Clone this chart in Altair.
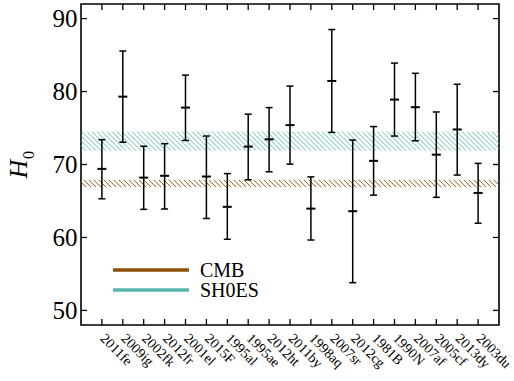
import altair as alt
import numpy as np
import pandas as pd

# ---- data ----
names = ["2011fe", "2009ig", "2002fk", "2012fr", "2001el", "2015F", "1995al",
         "1995ae", "2012ht", "2011by", "1998aq", "2007sr", "2012cg", "1981B",
         "1990N", "2007af", "2005cf", "2013dy", "2003du"]
h0 = [69.4, 79.3, 68.2, 68.45, 77.8, 68.35, 64.2, 72.45, 73.45, 75.4,
      63.95, 81.45, 63.6, 70.5, 78.9, 77.85, 71.35, 74.8, 66.1]
h0_lo = [65.3, 73.05, 63.85, 63.9, 73.3, 62.6, 59.75, 67.9, 69.0, 70.05,
         59.65, 74.4, 53.8, 65.8, 73.9, 73.25, 65.5, 68.55, 61.95]
h0_hi = [73.4, 85.55, 72.5, 72.85, 82.25, 73.9, 68.75, 76.9, 77.8, 80.75,
         68.3, 88.5, 73.35, 75.2, 83.9, 82.5, 77.2, 81.0, 70.15]

band_names = ["CMB", "SH0ES"]
band_center = [67.4, 73.2]
band_err = [0.5, 1.3]
band_colors = ["#8c510a", "#5ab4ac"]
hatch_colors = ["#9a5a14", "#62bbb2"]

y_ticks = [50, 60, 70, 80, 90]

# ---- layout ----
W, H = 418, 321
XDOM = [0, 20]
YDOM = [48, 92]
FONT = "'Liberation Serif', 'Times New Roman', serif"

pos = list(range(1, len(names) + 1))
df = pd.DataFrame({"pos": pos, "name": names, "h0": h0, "lo": h0_lo, "hi": h0_hi})

xs = alt.Scale(domain=XDOM, nice=False, zero=False)
ys = alt.Scale(domain=YDOM, nice=False, zero=False)

label_expr = "[" + ",".join("'%s'" % n for n in names) + "][datum.value - 1]"

x_axis = alt.Axis(values=pos, labelExpr=label_expr, labelAngle=45,
                  labelAlign="left", labelBaseline="middle",
                  labelPadding=11, labelFontSize=14, labelFont=FONT,
                  labelColor="#000", ticks=False, domain=False,
                  grid=False, title=None, labelOverlap=False)
y_axis = alt.Axis(values=y_ticks, labelFontSize=25, labelFont=FONT,
                  labelColor="#000", labelPadding=4, ticks=False,
                  domain=False, grid=False, title=None)


def X(f):
    return alt.X(f, scale=xs, axis=x_axis)


def Y(f):
    return alt.Y(f, scale=ys, axis=y_axis)


# ---- hatched bands (decoration built from the band values) ----
px_per_x = W / (XDOM[1] - XDOM[0])
px_per_y = H / (YDOM[1] - YDOM[0])
spacing = 5.0 / px_per_x
hatch_rows = []
for nm, c, e in zip(band_names, band_center, band_err):
    lo, hi = c - e, c + e
    d = (hi - lo) * px_per_y / px_per_x
    for xs0 in np.arange(XDOM[0] - d, XDOM[1] + spacing, spacing):
        hatch_rows.append({"band": nm, "x1": xs0, "x2": xs0 + d, "ytop": hi, "ybot": lo})
hatch_df = pd.DataFrame(hatch_rows)

hatch = alt.Chart(hatch_df).mark_rule(strokeWidth=1, clip=True).encode(
    x=X("x1:Q"), x2="x2:Q", y=Y("ytop:Q"), y2="ybot:Q",
    color=alt.Color("band:N", scale=alt.Scale(domain=band_names, range=hatch_colors),
                    legend=None),
)

# ---- error bars ----
bars = alt.Chart(df).mark_rule(strokeWidth=1.5, color="#000").encode(
    x=X("pos:Q"), y=Y("lo:Q"), y2="hi:Q")
cap_lo = alt.Chart(df).mark_rule(strokeWidth=1.5, color="#000", xOffset=-3.5, x2Offset=3.5).encode(
    x=X("pos:Q"), x2="pos:Q", y=Y("lo:Q"))
cap_hi = alt.Chart(df).mark_rule(strokeWidth=1.5, color="#000", xOffset=-3.5, x2Offset=3.5).encode(
    x=X("pos:Q"), x2="pos:Q", y=Y("hi:Q"))
center = alt.Chart(df).mark_rule(strokeWidth=2, color="#000", xOffset=-4.5, x2Offset=4.5).encode(
    x=X("pos:Q"), x2="pos:Q", y=Y("h0:Q"))

# ---- inward ticks on all four sides ----
ytick_df = pd.DataFrame({"v": y_ticks})
xtick_df = pd.DataFrame({"p": pos})
tl = 6
yt_left = alt.Chart(ytick_df).mark_rule(strokeWidth=1.3, color="#000").encode(
    x=alt.value(0), x2=alt.value(tl), y=Y("v:Q"))
yt_right = alt.Chart(ytick_df).mark_rule(strokeWidth=1.3, color="#000").encode(
    x=alt.value(W - tl), x2=alt.value(W), y=Y("v:Q"))
xt_bot = alt.Chart(xtick_df).mark_rule(strokeWidth=1.3, color="#000").encode(
    x=X("p:Q"), y=alt.value(H - tl), y2=alt.value(H))
xt_top = alt.Chart(xtick_df).mark_rule(strokeWidth=1.3, color="#000").encode(
    x=X("p:Q"), y=alt.value(0), y2=alt.value(tl))

# ---- legend (manual) ----
one = pd.DataFrame({"k": [0]})
legend_layers = []
for i, (nm, col) in enumerate(zip(band_names, band_colors)):
    yy = 266 + 20 * i
    legend_layers.append(alt.Chart(one).mark_rule(strokeWidth=3.5, color=col).encode(
        x=alt.value(32), x2=alt.value(108), y=alt.value(yy)))
    legend_layers.append(alt.Chart(one).mark_text(
        text=nm, font=FONT, fontSize=20, align="left", baseline="middle", color="#000").encode(
        x=alt.value(119), y=alt.value(yy + 1)))

# ---- y title H_0 ----
title_h = alt.Chart(one).mark_text(text="H", font=FONT, fontStyle="italic", fontSize=26,
                                   angle=270, align="center", baseline="middle", color="#000").encode(
    x=alt.value(-62), y=alt.value(165))
title_0 = alt.Chart(one).mark_text(text="0", font=FONT, fontSize=16,
                                   angle=270, align="center", baseline="middle", color="#000").encode(
    x=alt.value(-52), y=alt.value(151))

chart = alt.layer(
    hatch, bars, cap_lo, cap_hi, center,
    yt_left, yt_right, xt_bot, xt_top,
    *legend_layers, title_h, title_0
).properties(
    width=W, height=H,
    autosize=alt.AutoSizeParams(type="none"),
    padding={"left": 81, "top": 4, "right": 15, "bottom": 56},
    background="white",
).configure_view(
    stroke="#000", strokeWidth=1.6
)

chart.save("out.html", embed_options={"renderer": "svg", "actions": False})
